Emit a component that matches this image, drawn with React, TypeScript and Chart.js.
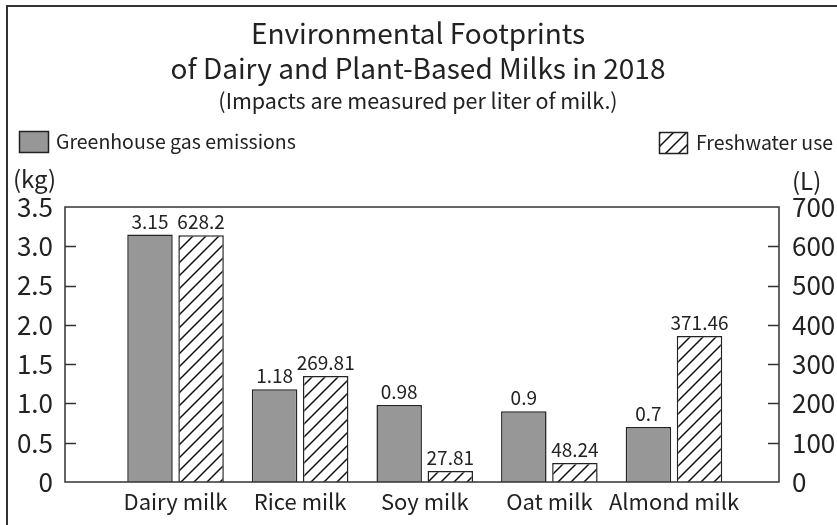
import { useEffect, useRef } from "react";
import { Chart, registerables } from "chart.js";

Chart.register(...registerables);

const categories = ["Dairy milk", "Rice milk", "Soy milk", "Oat milk", "Almond milk"];
const ghgEmissions = [3.15, 1.18, 0.98, 0.9, 0.7];
const freshwaterUse = [628.2, 269.81, 27.81, 48.24, 371.46];
const leftTicks = [0, 0.5, 1, 1.5, 2, 2.5, 3, 3.5];
const rightTicks = [0, 100, 200, 300, 400, 500, 600, 700];
const titleLines = ["Environmental Footprints", "of Dairy and Plant-Based Milks in 2018"];
const subtitleText = "(Impacts are measured per liter of milk.)";
const seriesNames = ["Greenhouse gas emissions", "Freshwater use"];
const leftUnit = "(kg)";
const rightUnit = "(L)";

const FONT = '"Noto Sans CJK KR", "Noto Sans", sans-serif';
const INK = "#222";
const GRAY = "#979797";

function makeHatch(): CanvasPattern | string {
  const s = 13;
  const c = document.createElement("canvas");
  c.width = s;
  c.height = s;
  const g = c.getContext("2d");
  if (!g) return "#fff";
  g.fillStyle = "#fff";
  g.fillRect(0, 0, s, s);
  g.strokeStyle = "#111";
  g.lineWidth = 1.5;
  g.beginPath();
  g.moveTo(-1, s + 1);
  g.lineTo(s + 1, -1);
  g.moveTo(-2, 2);
  g.lineTo(2, -2);
  g.moveTo(s - 2, s + 2);
  g.lineTo(s + 2, s - 2);
  g.stroke();
  const p = g.createPattern(c, "repeat");
  return p || "#fff";
}

export default function App() {
  const ref = useRef<HTMLCanvasElement | null>(null);

  useEffect(() => {
    const canvas = ref.current;
    if (!canvas) return;
    const hatch = makeHatch();

    const decor = {
      id: "decor",
      afterDraw(chart: any) {
        const ctx = chart.ctx as CanvasRenderingContext2D;
        const a = chart.chartArea;
        ctx.save();
        // outer frame
        ctx.strokeStyle = "#333";
        ctx.lineWidth = 2;
        ctx.beginPath();
        ctx.moveTo(7, 530);
        ctx.lineTo(7, 6);
        ctx.lineTo(840, 6);
        ctx.stroke();

        // titles
        ctx.fillStyle = INK;
        ctx.textAlign = "center";
        ctx.textBaseline = "alphabetic";
        ctx.font = `28px ${FONT}`;
        ctx.fillText(titleLines[0], 418, 44);
        ctx.fillText(titleLines[1], 418, 79);
        ctx.font = `21.5px ${FONT}`;
        ctx.fillText(subtitleText, 418, 109);

        // legend
        ctx.lineWidth = 1.5;
        ctx.strokeStyle = INK;
        ctx.fillStyle = GRAY;
        ctx.fillRect(19.5, 131.5, 29, 21);
        ctx.strokeRect(19.5, 131.5, 29, 21);
        ctx.fillStyle = hatch as any;
        ctx.fillRect(659.5, 132.5, 28, 21);
        ctx.strokeRect(659.5, 132.5, 28, 21);
        ctx.fillStyle = INK;
        ctx.font = `19.5px ${FONT}`;
        ctx.textAlign = "left";
        ctx.textBaseline = "middle";
        ctx.fillText(seriesNames[0], 56, 142);
        ctx.fillText(seriesNames[1], 696, 143);

        // units
        ctx.font = `24px ${FONT}`;
        ctx.fillText(leftUnit, 13, 179);
        ctx.fillText(rightUnit, 792, 181);

        // plot frame
        ctx.strokeStyle = "#333";
        ctx.lineWidth = 1.5;
        ctx.strokeRect(a.left, a.top, a.right - a.left, a.bottom - a.top);

        // inward ticks
        const yl = chart.scales.y;
        const yr = chart.scales.y1;
        ctx.lineWidth = 1.3;
        ctx.beginPath();
        leftTicks.forEach((v) => {
          if (v === leftTicks[0] || v === leftTicks[leftTicks.length - 1]) return;
          const py = Math.round(yl.getPixelForValue(v)) + 0.5;
          ctx.moveTo(a.left, py);
          ctx.lineTo(a.left + 11, py);
        });
        rightTicks.forEach((v) => {
          if (v === rightTicks[0] || v === rightTicks[rightTicks.length - 1]) return;
          const py = Math.round(yr.getPixelForValue(v)) + 0.5;
          ctx.moveTo(a.right, py);
          ctx.lineTo(a.right - 11, py);
        });
        ctx.stroke();

        // data labels
        ctx.font = `19px ${FONT}`;
        ctx.fillStyle = INK;
        ctx.textAlign = "center";
        ctx.textBaseline = "alphabetic";
        chart.data.datasets.forEach((ds: any, di: number) => {
          const meta = chart.getDatasetMeta(di);
          meta.data.forEach((el: any, i: number) => {
            const v = ds.data[i].y;
            ctx.fillText(String(v), el.x, el.y - 6);
          });
        });
        ctx.restore();
      },
    };

    const chart = new Chart(canvas, {
      type: "bar",
      data: {
        datasets: [
          {
            label: seriesNames[0],
            data: ghgEmissions.map((v, i) => ({ x: i, y: v })),
            backgroundColor: GRAY,
            borderColor: INK,
            borderWidth: 1.5,
            yAxisID: "y",
            categoryPercentage: 0.82,
            barPercentage: 0.89,
          } as any,
          {
            label: seriesNames[1],
            data: freshwaterUse.map((v, i) => ({ x: i, y: v })),
            backgroundColor: hatch as any,
            borderColor: INK,
            borderWidth: 1.5,
            yAxisID: "y1",
            categoryPercentage: 0.82,
            barPercentage: 0.89,
          } as any,
        ],
      },
      options: {
        animation: false,
        responsive: true,
        maintainAspectRatio: false,
        layout: { padding: { top: 207, left: 0, right: 0, bottom: 0 } },
        plugins: {
          legend: { display: false },
          title: { display: false },
          tooltip: { enabled: false },
        },
        scales: {
          x: {
            type: "linear",
            offset: false,
            min: -0.887,
            max: 4.843,
            grid: { display: false, drawTicks: false, offset: false },
            border: { display: false },
            afterBuildTicks: (s: any) => {
              s.ticks = categories.map((_, i) => ({ value: i }));
            },
            afterFit: (s: any) => {
              s.height = 43;
            },
            ticks: {
              autoSkip: false,
              maxRotation: 0,
              padding: 6,
              color: INK,
              font: { family: FONT, size: 22 },
              callback: (v: any) => categories[Number(v)] ?? "",
            },
          },
          y: {
            type: "linear",
            position: "left",
            min: 0,
            max: 3.5,
            grid: { display: false, drawTicks: false },
            border: { display: false },
            afterBuildTicks: (s: any) => {
              s.ticks = leftTicks.map((v) => ({ value: v }));
            },
            afterFit: (s: any) => {
              s.width = 65;
            },
            ticks: {
              padding: 12,
              color: INK,
              font: { family: FONT, size: 26 },
              callback: (v: any) => (Number(v) === 0 ? "0" : Number(v).toFixed(1)),
            },
          },
          y1: {
            type: "linear",
            position: "right",
            min: 0,
            max: 700,
            grid: { display: false, drawTicks: false },
            border: { display: false },
            afterBuildTicks: (s: any) => {
              s.ticks = rightTicks.map((v) => ({ value: v }));
            },
            afterFit: (s: any) => {
              s.width = 58;
            },
            ticks: {
              padding: 13,
              color: INK,
              font: { family: FONT, size: 26 },
              callback: (v: any) => String(v),
            },
          },
        },
      },
      plugins: [decor],
    });

    return () => chart.destroy();
  }, []);

  return (
    <div style={{ position: "fixed", left: 0, top: 0, width: 837, height: 525, background: "#fff" }}>
      <canvas ref={ref} />
    </div>
  );
}
